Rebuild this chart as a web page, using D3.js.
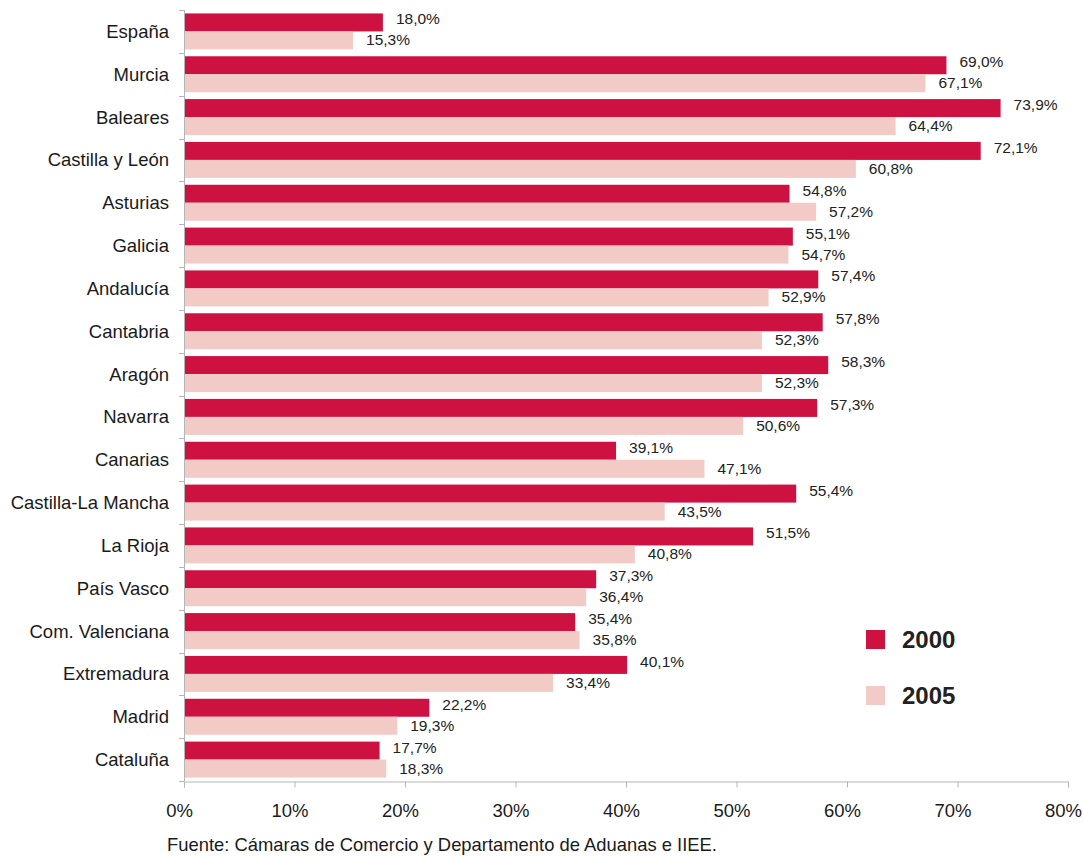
<!DOCTYPE html>
<html><head><meta charset="utf-8">
<script src="https://cdn.jsdelivr.net/npm/d3@7"></script>
<style>body{margin:0;background:#fff;font-family:"Liberation Sans",Arial,sans-serif;}</style>
</head><body><svg id="c" width="1084" height="856"></svg>
<script>
const categories = ["España","Murcia","Baleares","Castilla y León","Asturias","Galicia","Andalucía","Cantabria","Aragón","Navarra","Canarias","Castilla-La Mancha","La Rioja","País Vasco ","Com. Valenciana","Extremadura","Madrid","Cataluña"];
const values2000 = [18.0,69.0,73.9,72.1,54.8,55.1,57.4,57.8,58.3,57.3,39.1,55.4,51.5,37.3,35.4,40.1,22.2,17.7];
const values2005 = [15.3,67.1,64.4,60.8,57.2,54.7,52.9,52.3,52.3,50.6,47.1,43.5,40.8,36.4,35.8,33.4,19.3,18.3];
const seriesNames = ["2000","2005"];
const xTicks = [0,10,20,30,40,50,60,70,80];
const source = "Fuente: Cámaras de Comercio y Departamento de Aduanas e IIEE.";

const colors = ["#CD1141","#F2CBC7"];
const svg = d3.select("#c");
const x = d3.scaleLinear().domain([0,80]).range([184,1068]);
const y = d3.scaleBand().domain(categories).range([10,781]).paddingInner(0.16).paddingOuter(0.08);
const fmt = v => d3.format(".1f")(v).replace(".",",") + "%";

const g = svg.append("g");
categories.forEach((c,i)=>{
  const vals=[values2000[i],values2005[i]];
  const bw=y.bandwidth()/2;
  vals.forEach((v,s)=>{
    const y0=y(c)+s*bw;
    g.append("rect").attr("x",x(0)).attr("y",y0).attr("width",x(v)-x(0)).attr("height",bw).attr("fill",colors[s]);
    g.append("text").attr("x",x(v)+13).attr("y",y0+bw/2+(s===0?-3.5:-0.5)).attr("dy","0.35em")
      .attr("font-size","15.5px").attr("fill","#222").text(fmt(v));
  });
  g.append("text").attr("x",169).attr("y",y(c)+y.bandwidth()/2).attr("dy","0.35em").attr("text-anchor","end")
    .attr("font-size","18.5px").attr("fill","#1a1a1a").text(c);
});

// left axis line + category ticks
const axisCol="#b5b5b5";
svg.append("line").attr("x1",184.5).attr("x2",184.5).attr("y1",10).attr("y2",781).attr("stroke",axisCol);
for(let i=0;i<=categories.length;i++){
  const yy=Math.round(10+i*(771/categories.length))+0.5;
  svg.append("line").attr("x1",179).attr("x2",184).attr("y1",yy).attr("y2",yy).attr("stroke",axisCol);
}
// bottom axis
const xa = svg.append("g").attr("transform","translate(0,781.5)")
  .call(d3.axisBottom(x).tickValues(xTicks).tickSize(6).tickFormat(d=>d+"%").tickPadding(16));
xa.select(".domain").attr("stroke",axisCol);
xa.selectAll(".tick line").attr("stroke",axisCol);
xa.selectAll(".tick text").attr("font-family","Liberation Sans, Arial, sans-serif").attr("font-size","18.5px").attr("fill","#1a1a1a").attr("dx","-5");

// legend
seriesNames.forEach((s,i)=>{
  svg.append("rect").attr("x",866).attr("y",630+i*56).attr("width",19).attr("height",19).attr("fill",colors[i]);
  svg.append("text").attr("x",902).attr("y",640+i*56).attr("dy","0.35em").attr("font-size","24px").attr("font-weight","bold").attr("fill","#222").text(s);
});

svg.append("text").attr("x",167).attr("y",851).attr("font-size","18.4px").attr("fill","#1a1a1a").text(source);
</script></body></html>
